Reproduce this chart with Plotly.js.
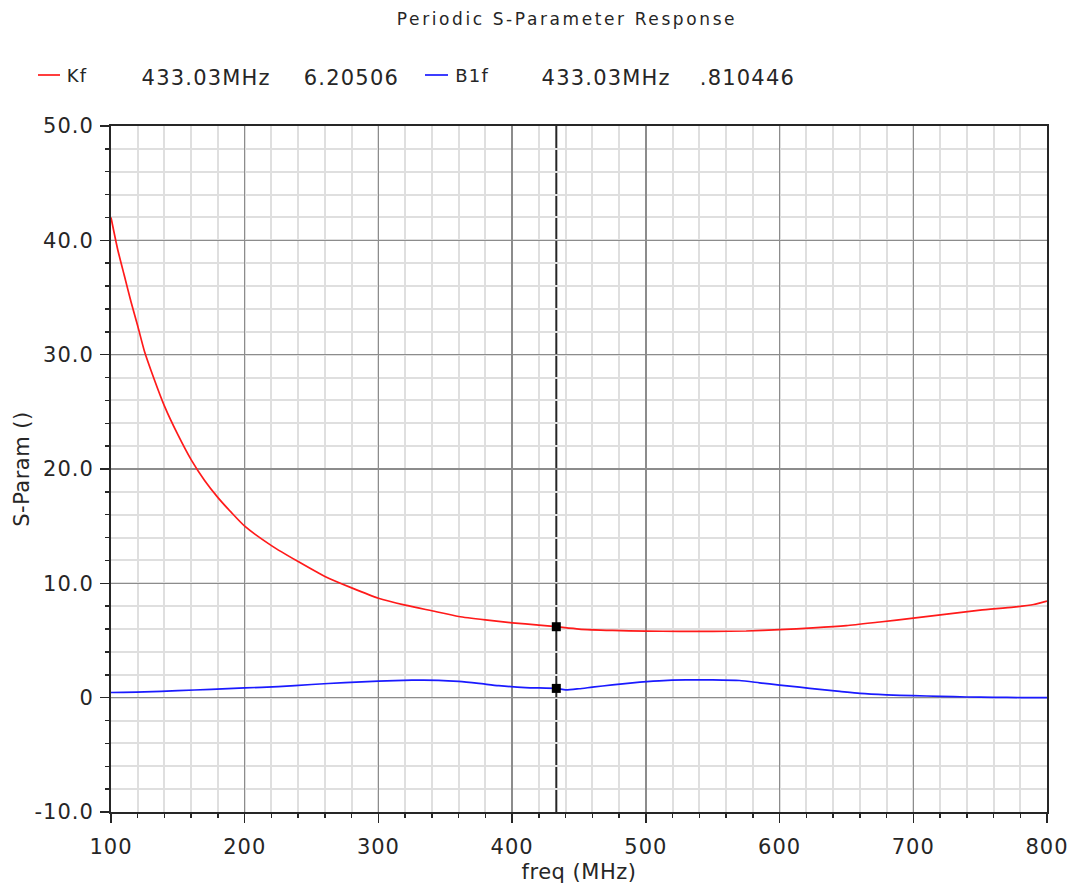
<!DOCTYPE html>
<html>
<head>
<meta charset="utf-8">
<script src="https://cdn.plot.ly/plotly-3.0.1.min.js"></script>
<style>
  html, body { margin: 0; padding: 0; background: #ffffff; }
  #chart { width: 1073px; height: 886px; }
  #chart .gtitle { letter-spacing: 2.6px; }
  #chart .annotation-text { letter-spacing: 1.2px; }
  #chart .xtick text, #chart .ytick text { letter-spacing: 1px; }
  #chart .xtitle, #chart .ytitle { letter-spacing: 0.5px; }
</style>
</head>
<body>
<div id="chart"></div>
<script>
// Stability factor Kf versus frequency (MHz)
const freqK = [100, 105, 110, 115, 120, 125, 130, 140, 150, 160, 170, 180, 190, 200,
  220, 240, 260, 280, 300, 320, 340, 360, 380, 400, 420, 433.03, 450, 475, 500, 525,
  550, 575, 600, 625, 650, 675, 700, 725, 750, 775, 790, 800];
const kf = [42.0, 39.2, 36.9, 34.6, 32.5, 30.3, 28.6, 25.5, 23.0, 20.8, 19.0, 17.5, 16.2, 15.0,
  13.3, 11.9, 10.6, 9.6, 8.7, 8.1, 7.6, 7.1, 6.8, 6.55, 6.35, 6.20506, 6.0, 5.88, 5.82, 5.8,
  5.8, 5.83, 5.95, 6.1, 6.3, 6.62, 6.95, 7.3, 7.65, 7.92, 8.15, 8.45];

// Stability measure B1f versus frequency (MHz)
const freqB = [100, 125, 150, 175, 200, 225, 250, 275, 300, 325, 345, 360, 375, 390, 410,
  433.03, 440, 450, 460, 475, 490, 510, 530, 550, 570, 585, 600, 615, 630, 645, 660, 680,
  700, 720, 740, 760, 780, 800];
const b1f = [0.45, 0.5, 0.62, 0.72, 0.85, 0.97, 1.15, 1.32, 1.45, 1.53, 1.52, 1.42, 1.25, 1.05, 0.88,
  0.810446, 0.68, 0.78, 0.92, 1.12, 1.3, 1.47, 1.55, 1.55, 1.5, 1.3, 1.1, 0.92, 0.72, 0.55, 0.38, 0.25,
  0.17, 0.12, 0.06, 0.03, 0.01, 0.0];

// Cursor readout
const cursorFreq = 433.03;
const cursorValues = [6.20506, 0.810446];
const legendNames = ['Kf', 'B1f'];
const legendFreqText = ['433.03MHz', '433.03MHz'];
const legendValueText = ['6.20506', '.810446'];

// Axis ticks
const xTickVals = [100, 200, 300, 400, 500, 600, 700, 800];
const xTickText = ['100', '200', '300', '400', '500', '600', '700', '800'];
const yTickVals = [-10, 0, 10, 20, 30, 40, 50];
const yTickText = ['-10.0', '0', '10.0', '20.0', '30.0', '40.0', '50.0'];

const W = 1073, H = 886;
const M = { l: 111, r: 26, t: 126, b: 74 };
const xPaper = px => (px - M.l) / (W - M.l - M.r);
const yPaper = py => (H - M.b - py) / (H - M.t - M.b);

const FONT = 'DejaVu Sans, Verdana, sans-serif';
const INK = '#262626';
const RED = '#ff1a1a';
const BLUE = '#1a1aff';

const traces = [
  { x: freqK, y: kf, type: 'scatter', mode: 'lines', name: 'Kf',
    line: { color: RED, width: 1.7, shape: 'spline', smoothing: 0.6 }, hoverinfo: 'x+y' },
  { x: freqB, y: b1f, type: 'scatter', mode: 'lines', name: 'B1f',
    line: { color: BLUE, width: 1.7, shape: 'spline', smoothing: 0.6 }, hoverinfo: 'x+y' },
  { x: [cursorFreq, cursorFreq], y: cursorValues, type: 'scatter', mode: 'markers',
    marker: { symbol: 'square', size: 9, color: '#000000' }, hoverinfo: 'skip' }
];

const legendColors = [RED, BLUE];
const legendLineX = [[38, 60], [425, 448]];
const legendNameX = [66, 455];
const legendFreqX = [145, 545];
const legendValueX = [306, 702];
const legendY = 77;

const annotations = [];
const shapes = [
  // cursor line across the plot
  { type: 'line', xref: 'x', yref: 'paper', x0: cursorFreq, x1: cursorFreq, y0: 0, y1: 1,
    line: { color: INK, width: 2 }, layer: 'below' }
];
for (let i = 0; i < legendNames.length; i++) {
  shapes.push({ type: 'line', xref: 'paper', yref: 'paper',
    x0: xPaper(legendLineX[i][0]), x1: xPaper(legendLineX[i][1]),
    y0: yPaper(legendY - 2), y1: yPaper(legendY - 2),
    line: { color: legendColors[i], width: 1.7 } });
  annotations.push({ xref: 'paper', yref: 'paper', x: xPaper(legendNameX[i]), y: yPaper(legendY - 1),
    xanchor: 'left', yanchor: 'middle', showarrow: false, text: legendNames[i],
    font: { family: FONT, size: 18, color: INK } });
  annotations.push({ xref: 'paper', yref: 'paper', x: xPaper(legendFreqX[i]), y: yPaper(legendY + 1),
    xanchor: 'left', yanchor: 'middle', showarrow: false, text: legendFreqText[i],
    font: { family: FONT, size: 21, color: INK } });
  annotations.push({ xref: 'paper', yref: 'paper', x: xPaper(legendValueX[i]), y: yPaper(legendY + 1),
    xanchor: 'left', yanchor: 'middle', showarrow: false, text: legendValueText[i],
    font: { family: FONT, size: 21, color: INK } });
}

const layout = {
  width: W, height: H,
  margin: M,
  paper_bgcolor: '#ffffff', plot_bgcolor: '#ffffff',
  showlegend: false,
  font: { family: FONT, size: 21, color: INK },
  title: {
    text: 'Periodic S-Parameter Response',
    font: { family: FONT, size: 17, color: INK },
    xref: 'paper', x: xPaper(567), xanchor: 'center',
    yref: 'container', y: 1 - 19 / H, yanchor: 'middle'
  },
  xaxis: {
    range: [100, 800],
    tickmode: 'array', tickvals: xTickVals, ticktext: xTickText,
    ticks: 'outside', ticklen: 9, tickwidth: 1.5, tickcolor: INK,
    ticklabelstandoff: 6,
    showgrid: true, gridcolor: '#8c8c8c', gridwidth: 1.5,
    zeroline: false,
    showline: true, linecolor: INK, linewidth: 2, mirror: true,
    minor: { dtick: 20, tick0: 100, ticks: 'outside', ticklen: 4, tickwidth: 1.5, tickcolor: INK,
             showgrid: true, gridcolor: '#dfdfdf', gridwidth: 2 },
    tickfont: { family: FONT, size: 21, color: INK },
    title: { text: 'freq (MHz)', font: { family: FONT, size: 21, color: INK }, standoff: 6 }
  },
  yaxis: {
    range: [-10, 50],
    tickmode: 'array', tickvals: yTickVals, ticktext: yTickText,
    ticks: 'outside', ticklen: 9, tickwidth: 1.5, tickcolor: INK,
    ticklabelstandoff: 2,
    showgrid: true, gridcolor: '#8c8c8c', gridwidth: 1.5,
    zeroline: false,
    showline: true, linecolor: INK, linewidth: 2, mirror: true,
    minor: { dtick: 2, tick0: 0, ticks: 'outside', ticklen: 4, tickwidth: 1.5, tickcolor: INK,
             showgrid: true, gridcolor: '#dfdfdf', gridwidth: 2 },
    tickfont: { family: FONT, size: 21, color: INK },
    title: { text: 'S-Param ()', font: { family: FONT, size: 21, color: INK }, standoff: 4 }
  },
  shapes: shapes,
  annotations: annotations
};

Plotly.newPlot('chart', traces, layout, { displayModeBar: false, staticPlot: true });
</script>
</body>
</html>
